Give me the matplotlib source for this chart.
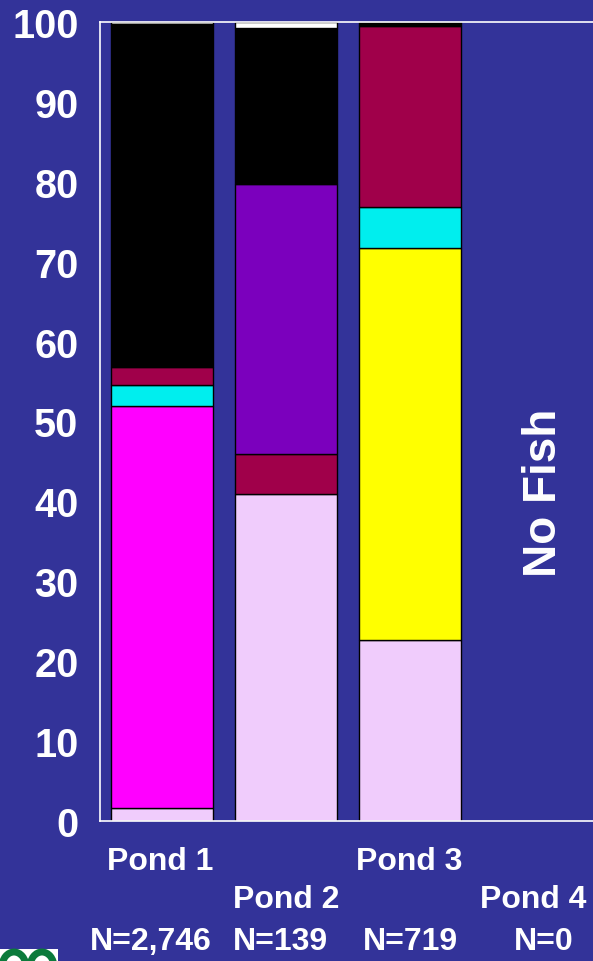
import matplotlib
matplotlib.use("Agg")
import matplotlib.pyplot as plt
from matplotlib.patches import Rectangle, Ellipse
import numpy as np

ponds = ["Pond 1", "Pond 2", "Pond 3", "Pond 4"]
n_labels = ["N=2,746", "N=139", "N=719", "N=0"]
yticks = [0, 10, 20, 30, 40, 50, 60, 70, 80, 90, 100]

light_pink = [1.6, 40.9, 22.7, 0]
magenta = [50.3, 0, 0, 0]
yellow = [0, 0, 49.0, 0]
cyan = [2.7, 0, 5.1, 0]
maroon = [2.2, 5.0, 22.7, 0]
purple = [0, 33.8, 0, 0]
black = [43.0, 19.5, 0.5, 0]
white = [0.2, 0.8, 0, 0]

series = [
    (light_pink, "#F0CCFC"),
    (magenta, "#FF00FF"),
    (yellow, "#FFFF00"),
    (cyan, "#00EEEE"),
    (maroon, "#A0004A"),
    (purple, "#7B00BD"),
    (black, "#000000"),
    (white, "#FFFFFF"),
]

BG = "#333399"
plt.rcParams['font.family'] = ['Liberation Sans', 'DejaVu Sans']

W, H = 593, 962
fig = plt.figure(figsize=(W / 100, H / 100), dpi=100, facecolor=BG)
ax = fig.add_axes([100 / W, 1 - 822 / H, 496 / W, (822 - 23) / H])
ax.set_facecolor(BG)

x = np.arange(len(ponds))
bottom = np.zeros(len(ponds))
for vals, col in series:
    v = np.array(vals, dtype=float)
    mask = v > 0
    ax.bar(x[mask], v[mask], bottom=bottom[mask], width=0.83, color=col,
           edgecolor="#000000", linewidth=1.0, zorder=2)
    bottom += v

ax.set_xlim(-0.5, 3.5)
ax.set_ylim(0, 100)
ax.set_yticks(yticks)
ax.set_yticklabels([str(t) for t in yticks], fontsize=28.5, fontweight="bold", color="white")
ax.tick_params(axis="y", length=0, pad=15.5)
ax.set_xticks([])
for s in ["left", "bottom", "top"]:
    ax.spines[s].set_color("white")
    ax.spines[s].set_linewidth(1.2)
ax.spines["right"].set_visible(False)

ax.text(3.08, 41.2, "No Fish", rotation=90, ha="center", va="center",
        fontsize=33, fontweight="bold", color="white")

# category labels (staggered)
pond_px = [160, 286.5, 409, 533.5]
pond_py = [862, 900, 862, 900]
for lab, px, py in zip(ponds, pond_px, pond_py):
    fig.text(px / W, 1 - py / H, lab, ha="center", va="center",
             fontsize=23, fontweight="bold", color="white")

n_px = [151, 280, 410, 544]
for lab, px in zip(n_labels, n_px):
    fig.text(px / W, 1 - 942 / H, lab, ha="center", va="center",
             fontsize=23, fontweight="bold", color="white")

# partial logo at bottom-left (cut off by the image edge)
fig.patches.append(Rectangle((0, 0), 58 / W, 12 / H, transform=fig.transFigure,
                             facecolor="white", edgecolor="none", zorder=1))
for cx in (14, 42):
    fig.patches.append(Ellipse((cx / W, -6 / H), 24 / W, 30 / H, transform=fig.transFigure,
                               facecolor="white", edgecolor="#0B7A3B", linewidth=5, zorder=2))

fig.savefig("out.png", dpi=100, facecolor=BG)
